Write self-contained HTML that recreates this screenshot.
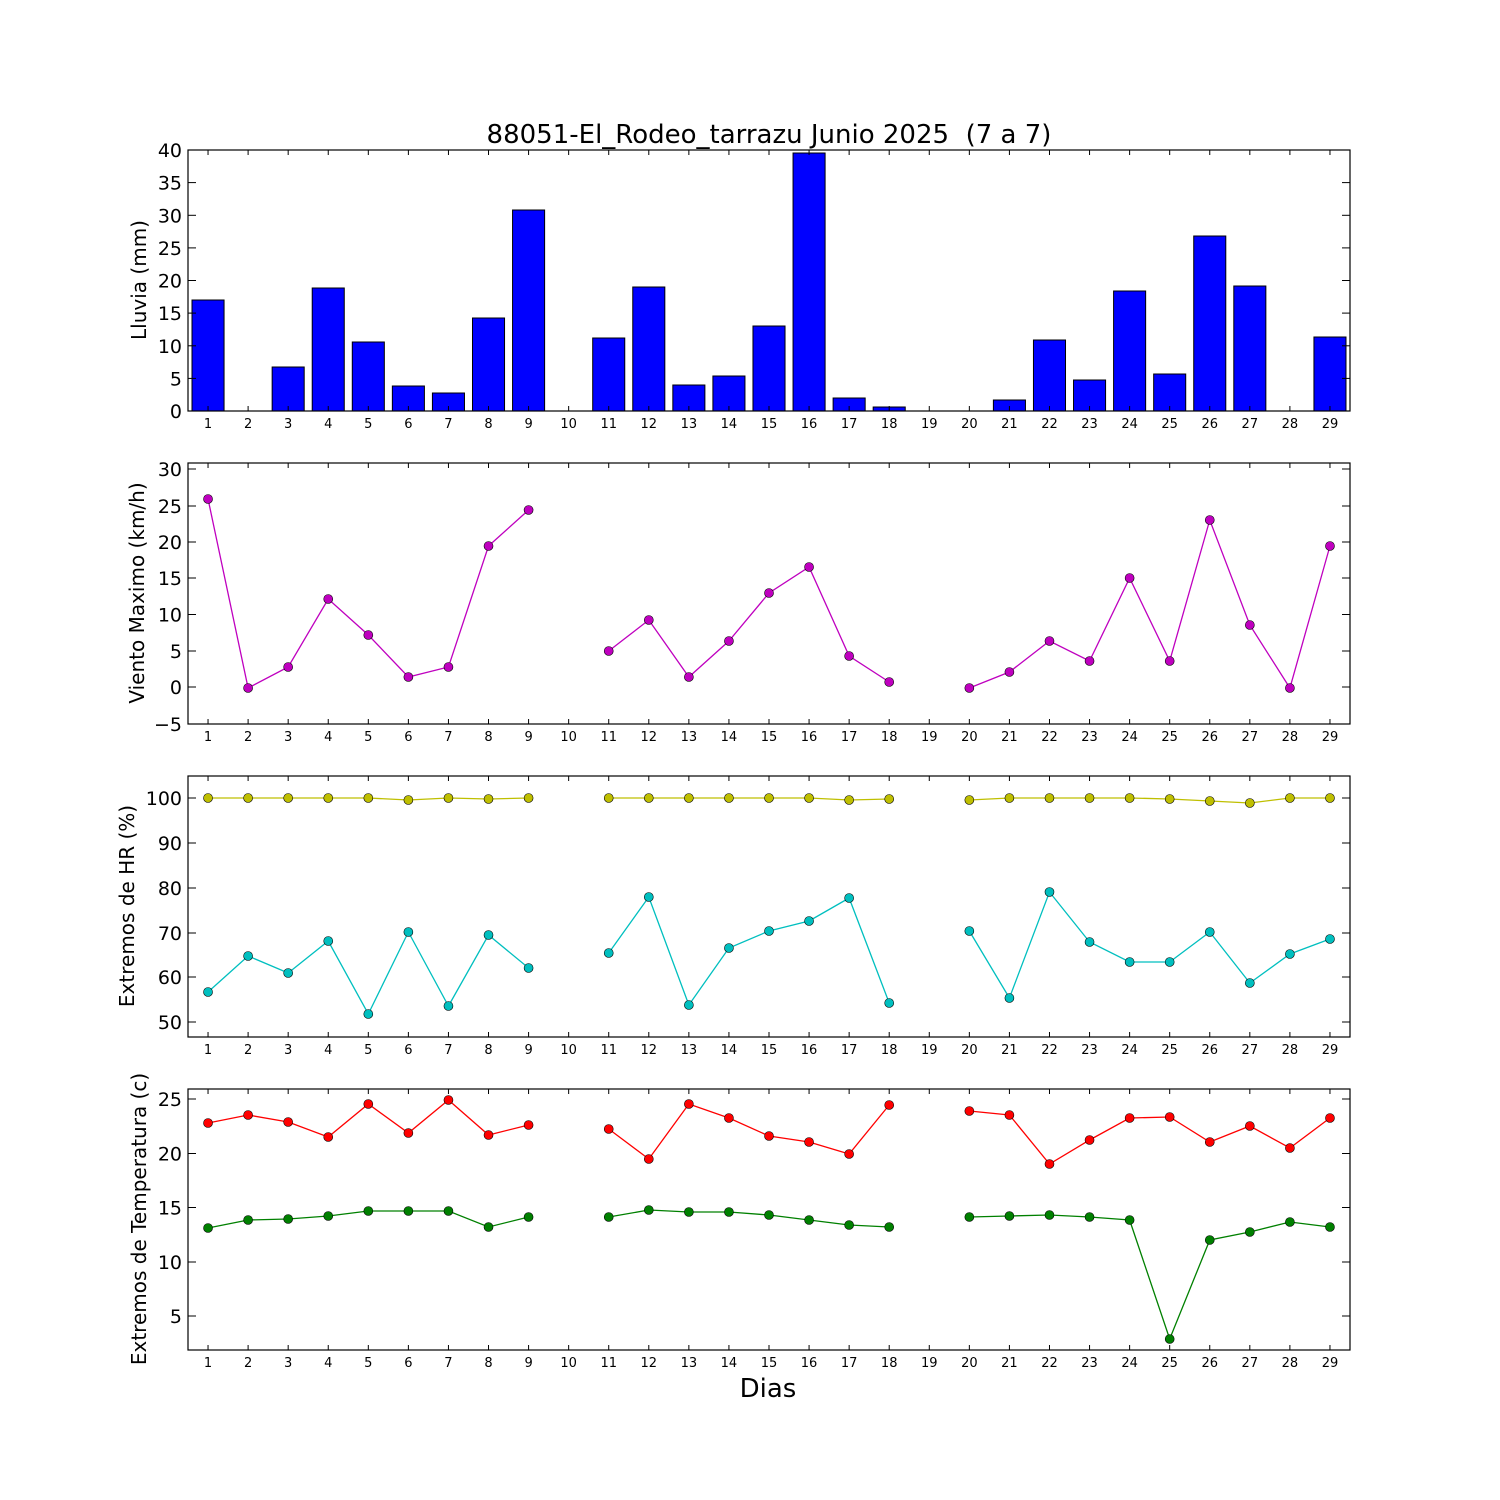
<!DOCTYPE html>
<html><head><meta charset="utf-8"><style>body{margin:0;background:#fff}svg{display:block}text{font-family:"DejaVu Sans","Liberation Sans",sans-serif}</style></head>
<body><svg id="s" width="1500" height="1500" xmlns="http://www.w3.org/2000/svg">
<rect width="1500" height="1500" fill="#fff"/>
<text x="769" y="143" font-size="26" text-anchor="middle">88051-El_Rodeo_tarrazu Junio 2025&#160; (7 a 7)</text>
<text x="768" y="1397" font-size="26" text-anchor="middle">Dias</text>
<text transform="translate(146,280) rotate(-90)" font-size="20" text-anchor="middle">Lluvia (mm)</text>
<text transform="translate(144,593) rotate(-90)" font-size="20" text-anchor="middle">Viento Maximo (km/h)</text>
<text transform="translate(134,906) rotate(-90)" font-size="20" text-anchor="middle">Extremos de HR (%)</text>
<text transform="translate(146,1219) rotate(-90)" font-size="20" text-anchor="middle">Extremos de Temperatura (c)</text>
<g id="g"></g>
</svg>
<script>
var g=document.getElementById('g'),h='';
var L=188,R=1350,sp=(R-L)/29;function X(d){return L+(d-0.5)*sp;}
var rain=[300,411,367,288,342,386,393,318,210,411,338,287,385,376,326,153,398,407,411,411,400,340,380,291,374,236,286,411,337];
for(var i=0;i<29;i++){var d=i+1,x=X(d)-0.4*sp,y=rain[i];h+='<rect x="'+x+'" y="'+y+'" width="'+(0.8*sp)+'" height="'+(411-y)+'" fill="#0000ff" stroke="#000" stroke-width="1"/>';}
function series(arr,col){var segs=[[]];arr.forEach(function(v,i){if(v==null){segs.push([]);}else segs[segs.length-1].push([X(i+1),v]);});
segs.forEach(function(s){if(s.length>1)h+='<polyline fill="none" stroke="'+col+'" stroke-width="1.3" points="'+s.map(function(p){return p.join(',')}).join(' ')+'"/>';});
segs.forEach(function(s){s.forEach(function(p){h+='<circle cx="'+p[0]+'" cy="'+p[1]+'" r="4.5" fill="'+col+'" stroke="#000" stroke-width="0.6"/>';});});}
var n=null;
series([499,688,667,599,635,677,667,546,510,n,651,620,677,641,593,567,656,682,n,688,672,641,661,578,661,520,625,688,546],'#bf00bf');
series([798,798,798,798,798,800,798,799,798,n,798,798,798,798,798,798,800,799,n,800,798,798,798,798,799,801,803,798,798],'#bfbf00');
series([992,956,973,941,1014,932,1006,935,968,n,953,897,1005,948,931,921,898,1003,n,931,998,892,942,962,962,932,983,954,939],'#00bfbf');
series([1123,1115,1122,1137,1104,1133,1100,1135,1125,n,1129,1159,1104,1118,1136,1142,1154,1105,n,1111,1115,1164,1140,1118,1117,1142,1126,1148,1118],'#ff0000');
series([1228,1220,1219,1216,1211,1211,1211,1227,1217,n,1217,1210,1212,1212,1215,1220,1225,1227,n,1217,1216,1215,1217,1220,1339,1240,1232,1222,1227],'#008000');
var panels=[[150,411,[[40,150],[35,182.6],[30,215.3],[25,247.9],[20,280.5],[15,313.1],[10,345.8],[5,378.4],[0,411]]],
[463,724,[[30,469],[25,506],[20,542],[15,578],[10,614.5],[5,651],[0,687],[-5,724]]],
[776,1037,[[100,798],[90,843],[80,888],[70,933],[60,977],[50,1022]]],
[1089,1350,[[25,1099],[20,1153.5],[15,1207.5],[10,1262],[5,1316]]]];
panels.forEach(function(p){var t=p[0],b=p[1];
h+='<rect x="'+L+'" y="'+t+'" width="'+(R-L)+'" height="'+(b-t)+'" fill="none" stroke="#000" stroke-width="1.2"/>';
for(var d=1;d<=29;d++){var x=X(d);h+='<line x1="'+x+'" x2="'+x+'" y1="'+b+'" y2="'+(b-5)+'" stroke="#000"/><line x1="'+x+'" x2="'+x+'" y1="'+t+'" y2="'+(t+5)+'" stroke="#000"/>';
h+='<text x="'+x+'" y="'+(b+17)+'" font-size="13" text-anchor="middle">'+d+'</text>';}
p[2].forEach(function(k){h+='<line x1="'+L+'" x2="'+(L+8)+'" y1="'+k[1]+'" y2="'+k[1]+'" stroke="#000"/><line x1="'+R+'" x2="'+(R-8)+'" y1="'+k[1]+'" y2="'+k[1]+'" stroke="#000"/>';
h+='<text x="'+(L-6)+'" y="'+(k[1]+7)+'" font-size="19" text-anchor="end">'+(k[0]<0?'\u2212'+(-k[0]):k[0])+'</text>';});});
g.innerHTML=h;
</script></body></html>
